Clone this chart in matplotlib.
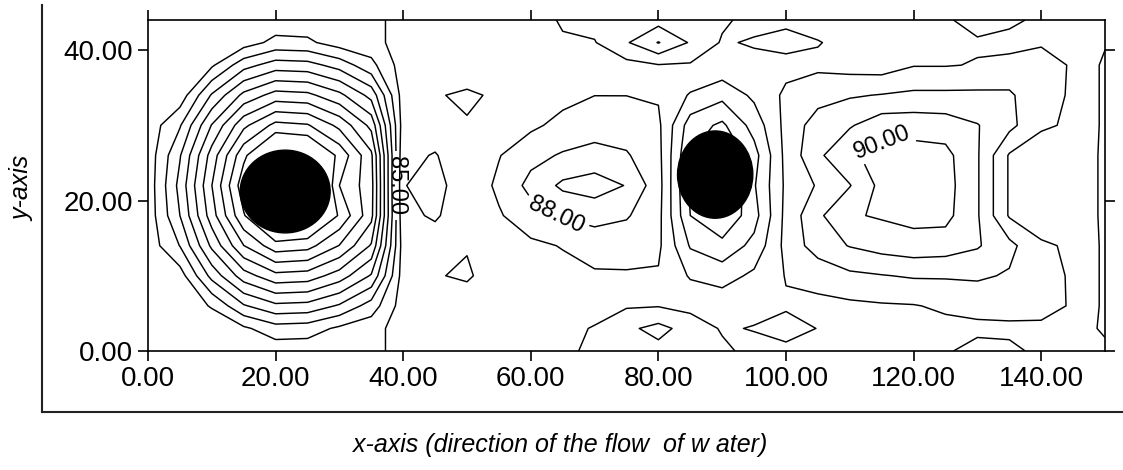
import numpy as np
import matplotlib
matplotlib.use("Agg")
import matplotlib.pyplot as plt
from matplotlib.patches import Ellipse
from matplotlib.lines import Line2D

plt.rcParams["font.family"] = ["Liberation Sans", "DejaVu Sans"]

# Measurement grid along the channel (x) and across it (y)
x_nodes = [0, 5, 10, 15, 20, 25, 30, 35, 40, 45, 50, 55, 60, 65, 70, 75,
           80, 85, 90, 95, 100, 105, 110, 115, 120, 125, 130, 135, 140, 145, 150]
y_nodes = [0, 3, 6, 10, 14, 18, 22, 26, 30, 34, 38, 41, 44]

# Field values, one row per y node (bottom to top)
field = [
    [85.6, 85.6, 85.6, 85.6, 85.6, 85.6, 85.6, 85.6, 86.5, 86.5, 86.5, 86.5, 86.5, 86.8, 87.2, 87.5,
     87.7, 87.5, 87.2, 86.7, 86.8, 86.6, 86.5, 86.5, 86.6, 86.9, 87.3, 87.2, 86.8, 86.6, 86.3],
    [85.6, 85.6, 85.6, 85.18, 84.42, 84.52, 85.19, 85.6, 86.5, 86.5, 86.5, 86.5, 86.6, 86.8, 87.05, 87.8,
     88.3, 87.6, 86.9, 87.05, 87.3, 86.98, 86.6, 86.6, 86.7, 86.75, 86.8, 86.8, 86.8, 86.6, 85.8],
    [85.6, 85.6, 84.92, 83.11, 82.23, 82.34, 83.13, 84.46, 86.5, 86.5, 86.6, 86.5, 86.5, 86.6, 86.7, 86.9,
     86.95, 86.7, 86.6, 86.7, 86.9, 86.8, 86.8, 86.9, 86.95, 87.15, 87.3, 87.4, 87.35, 86.9, 85.8],
    [85.6, 85.47, 82.67, 80.46, 79.30, 79.45, 80.48, 82.11, 86.5, 86.95, 87.1, 86.6, 86.6, 86.7, 86.85, 86.9,
     86.9, 85.9, 85.6, 86.2, 87.05, 87.3, 87.8, 87.95, 88.1, 88.1, 88.15, 87.9, 87.3, 86.9, 85.8],
    [85.6, 83.97, 80.78, 78.02, 76.40, 76.62, 78.04, 80.11, 86.5, 86.6, 86.95, 86.7, 86.8, 87.05, 87.5, 87.4,
     87.2, 84.9, 84.3, 85.3, 87.3, 88.5, 89.05, 89.4, 89.6, 89.5, 89.1, 88.3, 87.1, 86.9, 85.8],
    [85.6, 83.0, 79.46, 76.10, 73.57, 73.99, 76.12, 78.69, 86.8, 87.1, 86.5, 86.9, 87.6, 88.1, 88.3, 88.1,
     87.3, 84.0, 83.1, 84.6, 87.3, 88.8, 89.9, 90.1, 90.3, 90.3, 89.1, 86.9, 86.6, 86.7, 85.8],
    [85.6, 82.69, 79.01, 75.34, 71.67, 72.55, 77.0, 78.6, 86.95, 87.4, 86.3, 87.2, 88.3, 89.2, 89.5, 88.95,
     87.4, 83.8, 82.5, 84.9, 87.2, 88.1, 88.95, 90.3, 90.5, 90.4, 89.1, 86.9, 86.5, 86.7, 85.8],
    [85.6, 83.08, 79.56, 76.25, 73.84, 74.23, 76.27, 78.79, 86.8, 87.05, 86.5, 86.95, 87.7, 88.1, 88.3, 88.1,
     87.3, 84.0, 82.8, 84.6, 87.3, 88.8, 89.85, 90.3, 90.4, 90.3, 89.1, 86.9, 86.6, 86.7, 85.8],
    [85.6, 84.10, 80.94, 78.25, 76.69, 76.90, 78.27, 80.29, 86.5, 86.6, 86.95, 86.6, 86.8, 87.3, 87.6, 87.5,
     87.2, 84.5, 83.8, 85.4, 87.3, 88.5, 88.9, 89.6, 89.6, 89.5, 89.05, 88.3, 87.1, 86.9, 85.8],
    [85.6, 85.6, 82.89, 80.72, 79.59, 79.74, 80.73, 82.34, 86.5, 86.95, 87.1, 86.9, 86.6, 86.7, 86.99, 86.99,
     86.9, 85.9, 85.3, 86.2, 87.2, 87.6, 87.9, 88.05, 88.2, 88.2, 88.2, 88.15, 87.3, 86.9, 85.8],
    [85.6, 85.6, 85.16, 83.39, 82.52, 82.63, 83.40, 84.70, 86.5, 86.5, 86.6, 86.5, 86.5, 86.6, 86.8, 86.7,
     86.95, 86.9, 86.7, 86.7, 86.7, 86.8, 86.6, 86.5, 86.95, 86.95, 87.05, 87.3, 87.4, 86.9, 85.8],
    [85.6, 85.6, 85.6, 85.46, 84.72, 84.81, 85.47, 85.6, 86.5, 86.5, 86.5, 86.5, 86.6, 86.9, 86.95, 87.9,
     89.05, 87.9, 86.9, 87.1, 87.3, 87.05, 86.7, 86.6, 86.7, 86.8, 86.9, 86.7, 86.9, 86.7, 86.1],
    [85.6, 85.6, 85.6, 85.6, 85.6, 85.6, 85.6, 85.6, 86.5, 86.5, 86.5, 86.5, 86.6, 87.1, 87.3, 87.5,
     87.6, 87.5, 87.15, 86.7, 86.8, 86.6, 86.5, 86.5, 86.6, 86.9, 87.3, 87.2, 86.8, 86.6, 86.3],
]

contour_levels = list(range(76, 91))
labelled_levels = [85, 88, 90]

# Piers (obstacles in the flow)
pier_x = [21.5, 88.9]
pier_y = [21.2, 23.45]
pier_w = [14.1, 11.8]
pier_h = [11.0, 11.6]

x_ticks = [0, 20, 40, 60, 80, 100, 120, 140]
y_ticks = [0, 20, 40]

fig = plt.figure(figsize=(11.23, 4.70), dpi=100)
ax = fig.add_axes([148 / 1123, 1 - 351 / 470, (1105 - 148) / 1123, (351 - 20) / 470])
ax.set_xlim(0, 150)
ax.set_ylim(0, 44)

X, Y = np.meshgrid(x_nodes, y_nodes)
Z = np.array(field)
cs = ax.contour(X, Y, Z, levels=contour_levels, colors="black", linewidths=1.05)

# Put each label on the chosen level, at the vertex closest to the wanted spot
label_spots = {85: (38.8, 21.0), 88: (64.5, 18.0), 90: (117.5, 27.5)}
manual_pts = []
for lev in labelled_levels:
    segs = cs.allsegs[contour_levels.index(lev)]
    pts = np.vstack(segs)
    sx, sy = label_spots[lev]
    k = np.argmin((pts[:, 0] - sx) ** 2 + ((pts[:, 1] - sy) * 1.18) ** 2)
    manual_pts.append((pts[k, 0], pts[k, 1]))
ax.clabel(cs, manual=manual_pts, inline=True, fmt="%.2f", fontsize=17, colors="black")

for t in cs.labelTexts:
    if t.get_text() == "85.00":
        t.set_rotation(-90)

for px, py, pw, ph in zip(pier_x, pier_y, pier_w, pier_h):
    ax.add_patch(Ellipse((px, py), pw, ph, facecolor="black", edgecolor="black", zorder=5))

ax.set_xticks(x_ticks)
ax.set_yticks(y_ticks)
ax.set_xticklabels([f"{v:.2f}" for v in x_ticks])
ax.set_yticklabels([f"{v:.2f}" for v in y_ticks])
ax.tick_params(direction="out", length=7.5, width=1.2, labelsize=20,
               top=True, right=True, labeltop=False, labelright=False, pad=3)
for s in ax.spines.values():
    s.set_linewidth(1.2)

# Surrounding box lines
fig.add_artist(Line2D([42 / 1123, 42 / 1123], [1 - 5 / 470, 1 - 412 / 470],
                      transform=fig.transFigure, color="#222222", lw=1.5))
fig.add_artist(Line2D([42 / 1123, 1.0], [1 - 412 / 470, 1 - 412 / 470],
                      transform=fig.transFigure, color="#222222", lw=1.5))

fig.text(560 / 1123, 1 - 445 / 470, "x-axis (direction of the flow  of w ater)",
         ha="center", va="center", fontsize=18, style="italic")
fig.text(22 / 1123, 1 - 188 / 470, "y-axis", ha="center", va="center",
         fontsize=18, style="italic", rotation=90)

fig.savefig("out.png", dpi=100)
